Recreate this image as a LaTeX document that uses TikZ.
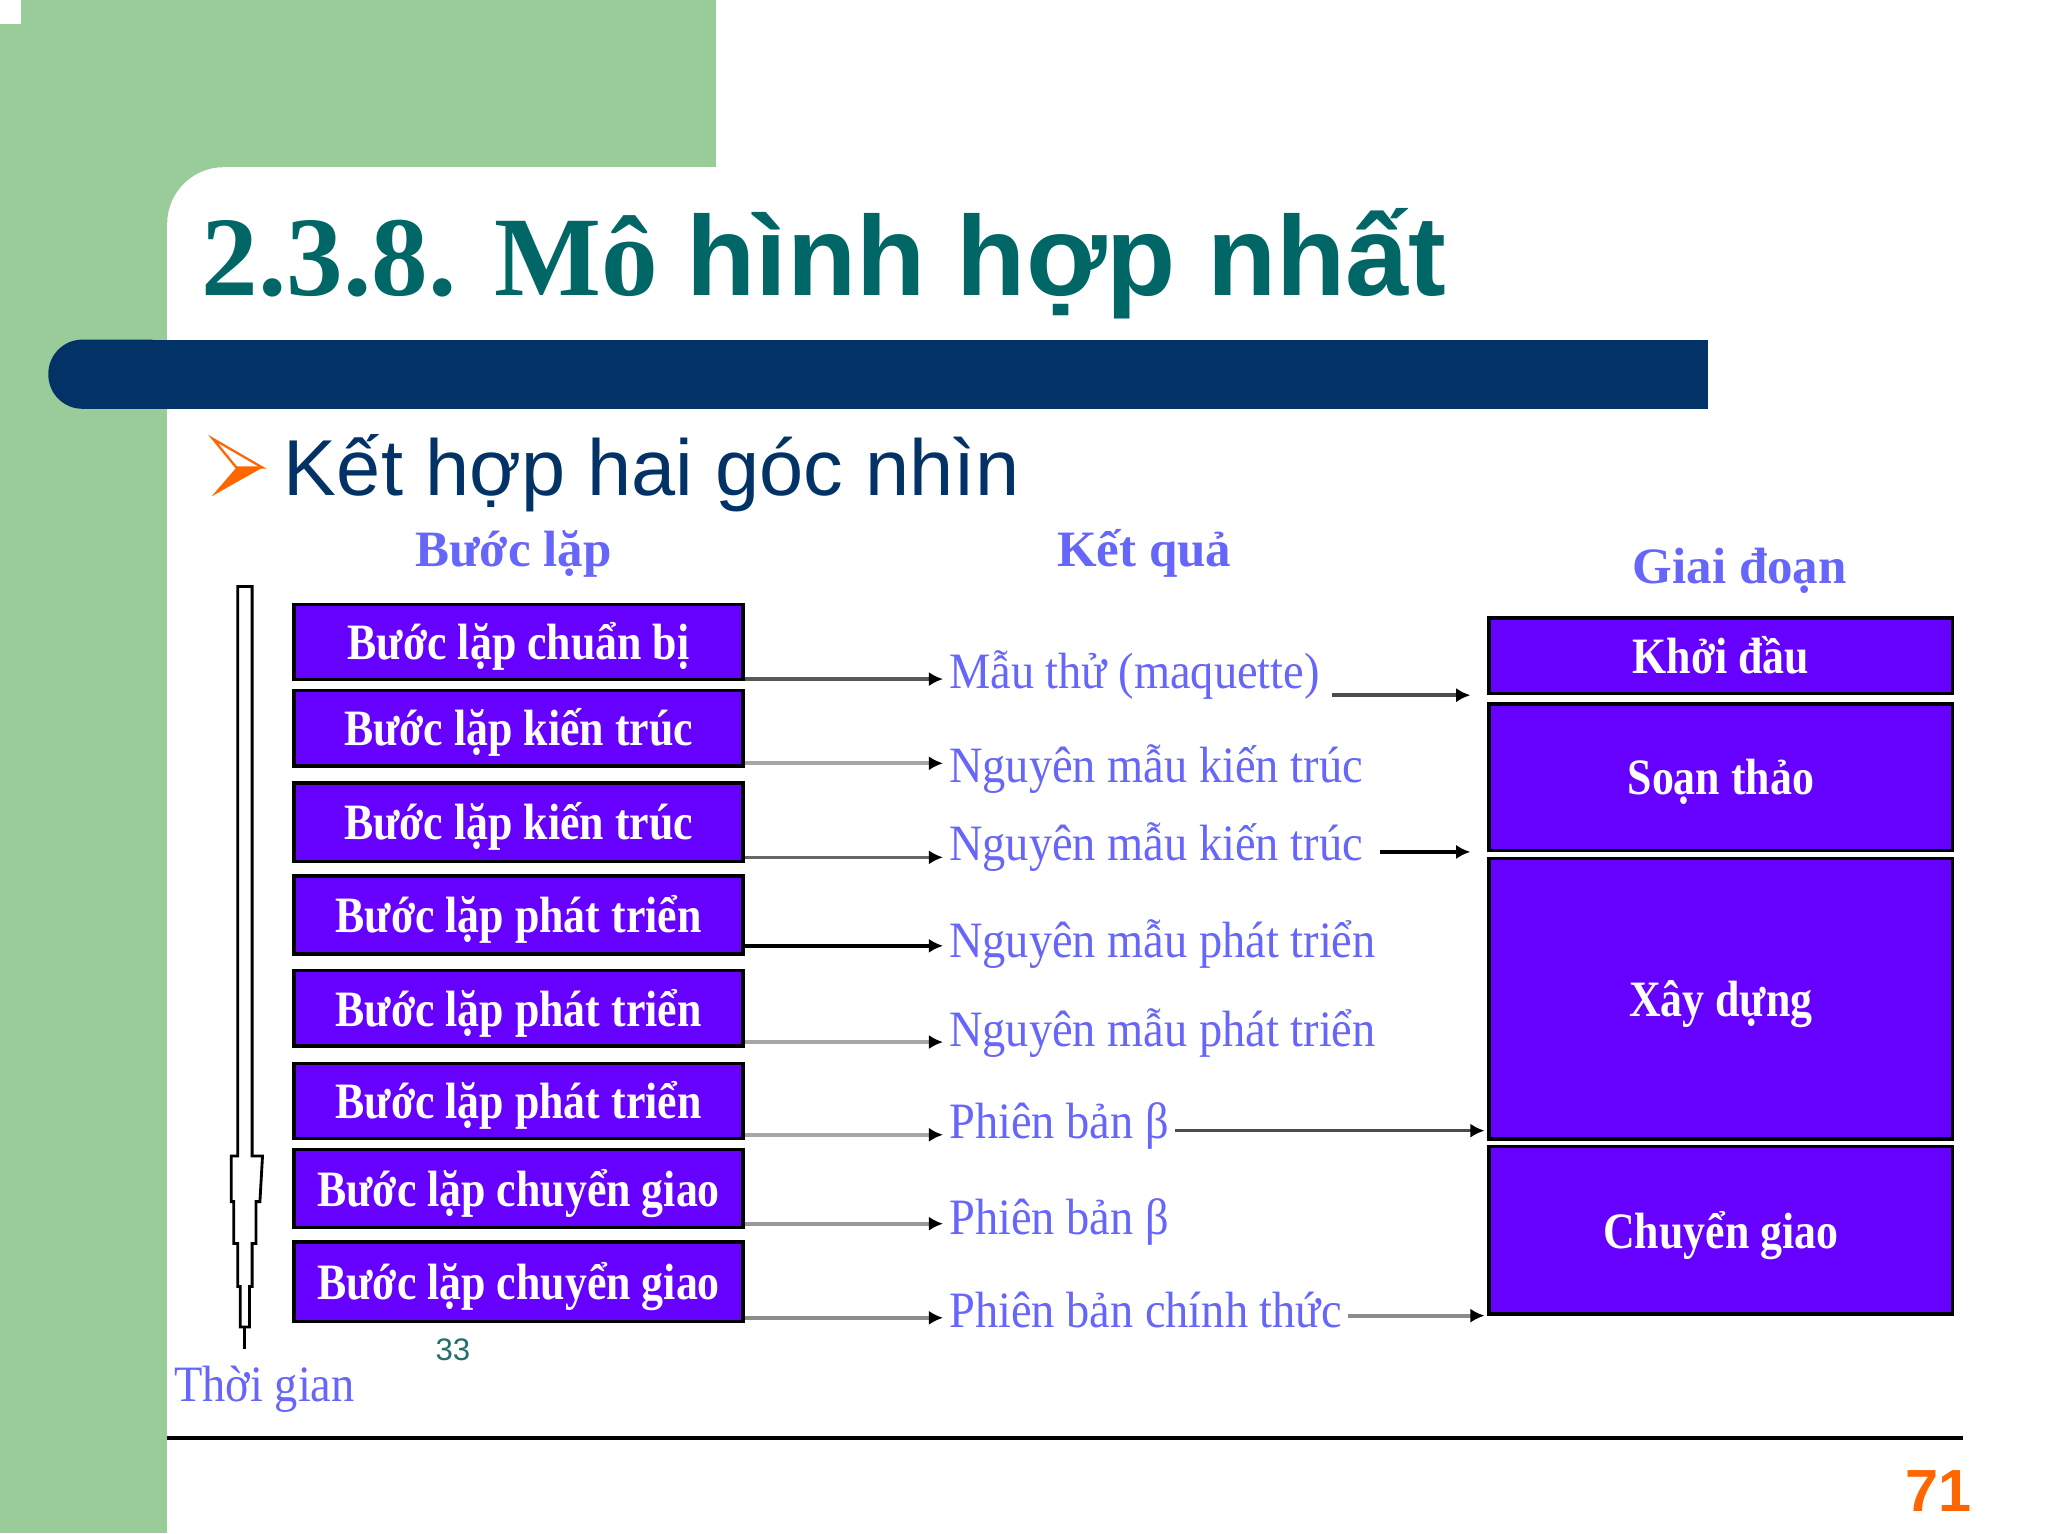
\documentclass[tikz,border=0pt]{standalone}
\usepackage{fontspec}
\setmainfont{Liberation Serif}
\newfontfamily\arialfont{Liberation Sans}
\newfontfamily\diagfont[FakeStretch=0.86]{Liberation Serif}
\newfontfamily\resfont[FakeStretch=0.91]{Liberation Serif}
\usetikzlibrary{arrows.meta}

\definecolor{slidegreen}{RGB}{153,204,153}
\definecolor{barnavy}{RGB}{3,51,102}
\definecolor{titleteal}{RGB}{0,102,102}
\definecolor{boxviolet}{RGB}{102,0,255}
\definecolor{resblue}{RGB}{102,102,250}
\definecolor{pageorange}{RGB}{255,102,0}

\tikzset{
  iterbox/.style={draw=black, line width=1.2pt, fill=boxviolet, text=white, inner sep=0pt,
    minimum width=158bp, minimum height=26.5bp, text height=12.5pt, text depth=0pt,
    font=\diagfont\bfseries\fontsize{18}{20}\selectfont},
  phasebox/.style={iterbox, minimum width=163bp},
  result/.style={anchor=base west, inner sep=2pt, text=resblue, font=\resfont\fontsize{18}{20}\selectfont},
  colhead/.style={anchor=base, inner sep=0pt, text=resblue, font=\bfseries\fontsize{18}{20}\selectfont},
  flow/.style={line width=1.3pt, -{Latex[length=5pt,width=5pt,color=black]}},
}

\begin{document}
\begin{tikzpicture}[x=0.016199cm, y=-0.016199cm]
      \useasboundingbox (0,0) rectangle (1568,1174);
      \clip (0,0) rectangle (1568,1174);
      \fill[white] (0,0) rectangle (1568,1174);
      \fill[slidegreen] (0,0) rectangle (548,1174);
      \fill[white] (0,0) rectangle (16,18);
      \fill[white, rounded corners=20bp] (128,128) rectangle (1700,1300);
      \fill[barnavy, rounded corners=12bp] (37,260) rectangle (140,313);
      \fill[barnavy] (100,260) rectangle (1308,313);

      \node[anchor=base west, inner sep=0pt, text=titleteal, font=\bfseries\fontsize{40}{44}\selectfont] (title) at (154,226) {2.3.8. Mô {\arialfont hình hợp nhất}};
      \fill[pageorange] (181,358) -- (201,358) -- (162,380) -- cycle;
      \draw[pageorange, line width=0.8pt] (163,336) -- (201,358) -- (181,358) -- cycle;
      \node[anchor=base west, inner sep=0pt, text=barnavy, font=\arialfont\fontsize{28}{32}\selectfont] (bullet) at (217,379) {Kết hợp hai góc nhìn};

      \node[colhead] (hstep)  at ( 393,434) {Bước lặp};
      \node[colhead] (hres)   at ( 876,434) {Kết quả};
      \node[colhead] (hphase) at (1332,447) {Giai đoạn};

      \node[iterbox] (b1) at (397,491.5) {Bước lặp chuẩn bị};
      \node[iterbox] (b2) at (397,557.5) {Bước lặp kiến trúc};
      \node[iterbox, minimum height=27.5bp] (b3) at (397,629.5) {Bước lặp kiến trúc};
      \node[iterbox, minimum height=27.5bp] (b4) at (397,700.5) {Bước lặp phát triển};
      \node[iterbox] (b5) at (397,772) {Bước lặp phát triển};
      \node[iterbox] (b6) at (397,843) {Bước lặp phát triển};
      \node[iterbox, minimum height=27.5bp] (b7) at (397,910) {Bước lặp chuyển giao};
      \node[iterbox, minimum height=28bp] (b8) at (397,981.5) {Bước lặp chuyển giao};

      \node[result] (r1) at (722,527)  {Mẫu thử (maquette)};
      \node[result] (r2) at (722,599)  {Nguyên mẫu kiến trúc};
      \node[result] (r3) at (722,659)  {Nguyên mẫu kiến trúc};
      \node[result] (r4) at (722,733)  {Nguyên mẫu phát triển};
      \node[result] (r5) at (722,801)  {Nguyên mẫu phát triển};
      \node[result] (r6) at (722,872)  {Phiên bản β};
      \node[result] (r7) at (722,945)  {Phiên bản β};
      \node[result] (r8) at (722,1016) {Phiên bản chính thức};

      \node[phasebox, minimum height=26.6bp] (p1) at (1317.5,502)   {Khởi đầu};
      \node[phasebox, minimum height=51.4bp] (p2) at (1317.5,595)   {Soạn thảo};
      \node[phasebox, minimum height=98.7bp] (p3) at (1317.5,764.5) {Xây dựng};
      \node[phasebox, minimum height=58.8bp] (p4) at (1317.5,942)   {Chuyển giao};

      \draw[flow, black!65] ([yshift=0.8pt]b1.south east) -- ([yshift=0.8pt]b1.south east -| r1.west);
      \draw[flow, black!35] ([yshift=1.5pt]b2.south east) -- ([yshift=1.5pt]b2.south east -| r2.west);
      \draw[flow, black!60] ([yshift=2pt]b3.south east) -- ([yshift=2pt]b3.south east -| r3.west);
      \draw[flow]           ([yshift=3.5pt]b4.south east) -- ([yshift=3.5pt]b4.south east -| r4.west);
      \draw[flow, black!35] ([yshift=2pt]b5.south east) -- ([yshift=2pt]b5.south east -| r5.west);
      \draw[flow, black!35] ([yshift=2pt]b6.south east) -- ([yshift=2pt]b6.south east -| r6.west);
      \draw[flow, black!40] ([yshift=2pt]b7.south east) -- ([yshift=2pt]b7.south east -| r7.west);
      \draw[flow, black!45] ([yshift=2pt]b8.south east) -- ([yshift=2pt]b8.south east -| r8.west);

      \draw[flow, black!70] ([xshift=2pt]r1.east |- p1.south west) -- ([xshift=-6pt]p1.south west);
      \draw[flow]           ([xshift=4pt]r3.east |- p2.south west) -- ([xshift=-6pt]p2.south west);
      \draw[flow, black!70] ([yshift=3.5pt]r6.east |- p3.south west) -- ([yshift=3.5pt,xshift=-1pt]p3.south west);
      \draw[flow, black!45] (r8.east |- p4.south west) -- ([xshift=-1pt]p4.south west);

      \draw[line width=1pt, fill=white] (182,449) -- (193,449) -- (193,885) -- (201,885) -- (199,920) -- (196,920) -- (196,952) -- (193,952) -- (193,985) -- (191,985) -- (191,1016) -- (184,1016) -- (184,985) -- (182,985) -- (182,952) -- (179,952) -- (179,920) -- (177,920) -- (177,885) -- (182,885) -- cycle;
      \draw[line width=1pt] (187.5,1016) -- (187.5,1033);
      \node[anchor=base west, inner sep=0pt, text=resblue, font=\resfont\fontsize{18}{20}\selectfont] (time) at (133,1073) {Thời gian};
      \node[anchor=base west, inner sep=0pt, text=titleteal!70!gray, font=\arialfont\fontsize{11}{12}\selectfont] (fignum) at (333,1042) {33};

      \draw[line width=1.1pt] (128,1101) -- (1503,1101);
      \node[anchor=base east, inner sep=0pt, text=pageorange, font=\arialfont\bfseries\fontsize{21}{24}\selectfont] (pagenum) at (1510,1157) {71};
    \end{tikzpicture}
\end{document}
